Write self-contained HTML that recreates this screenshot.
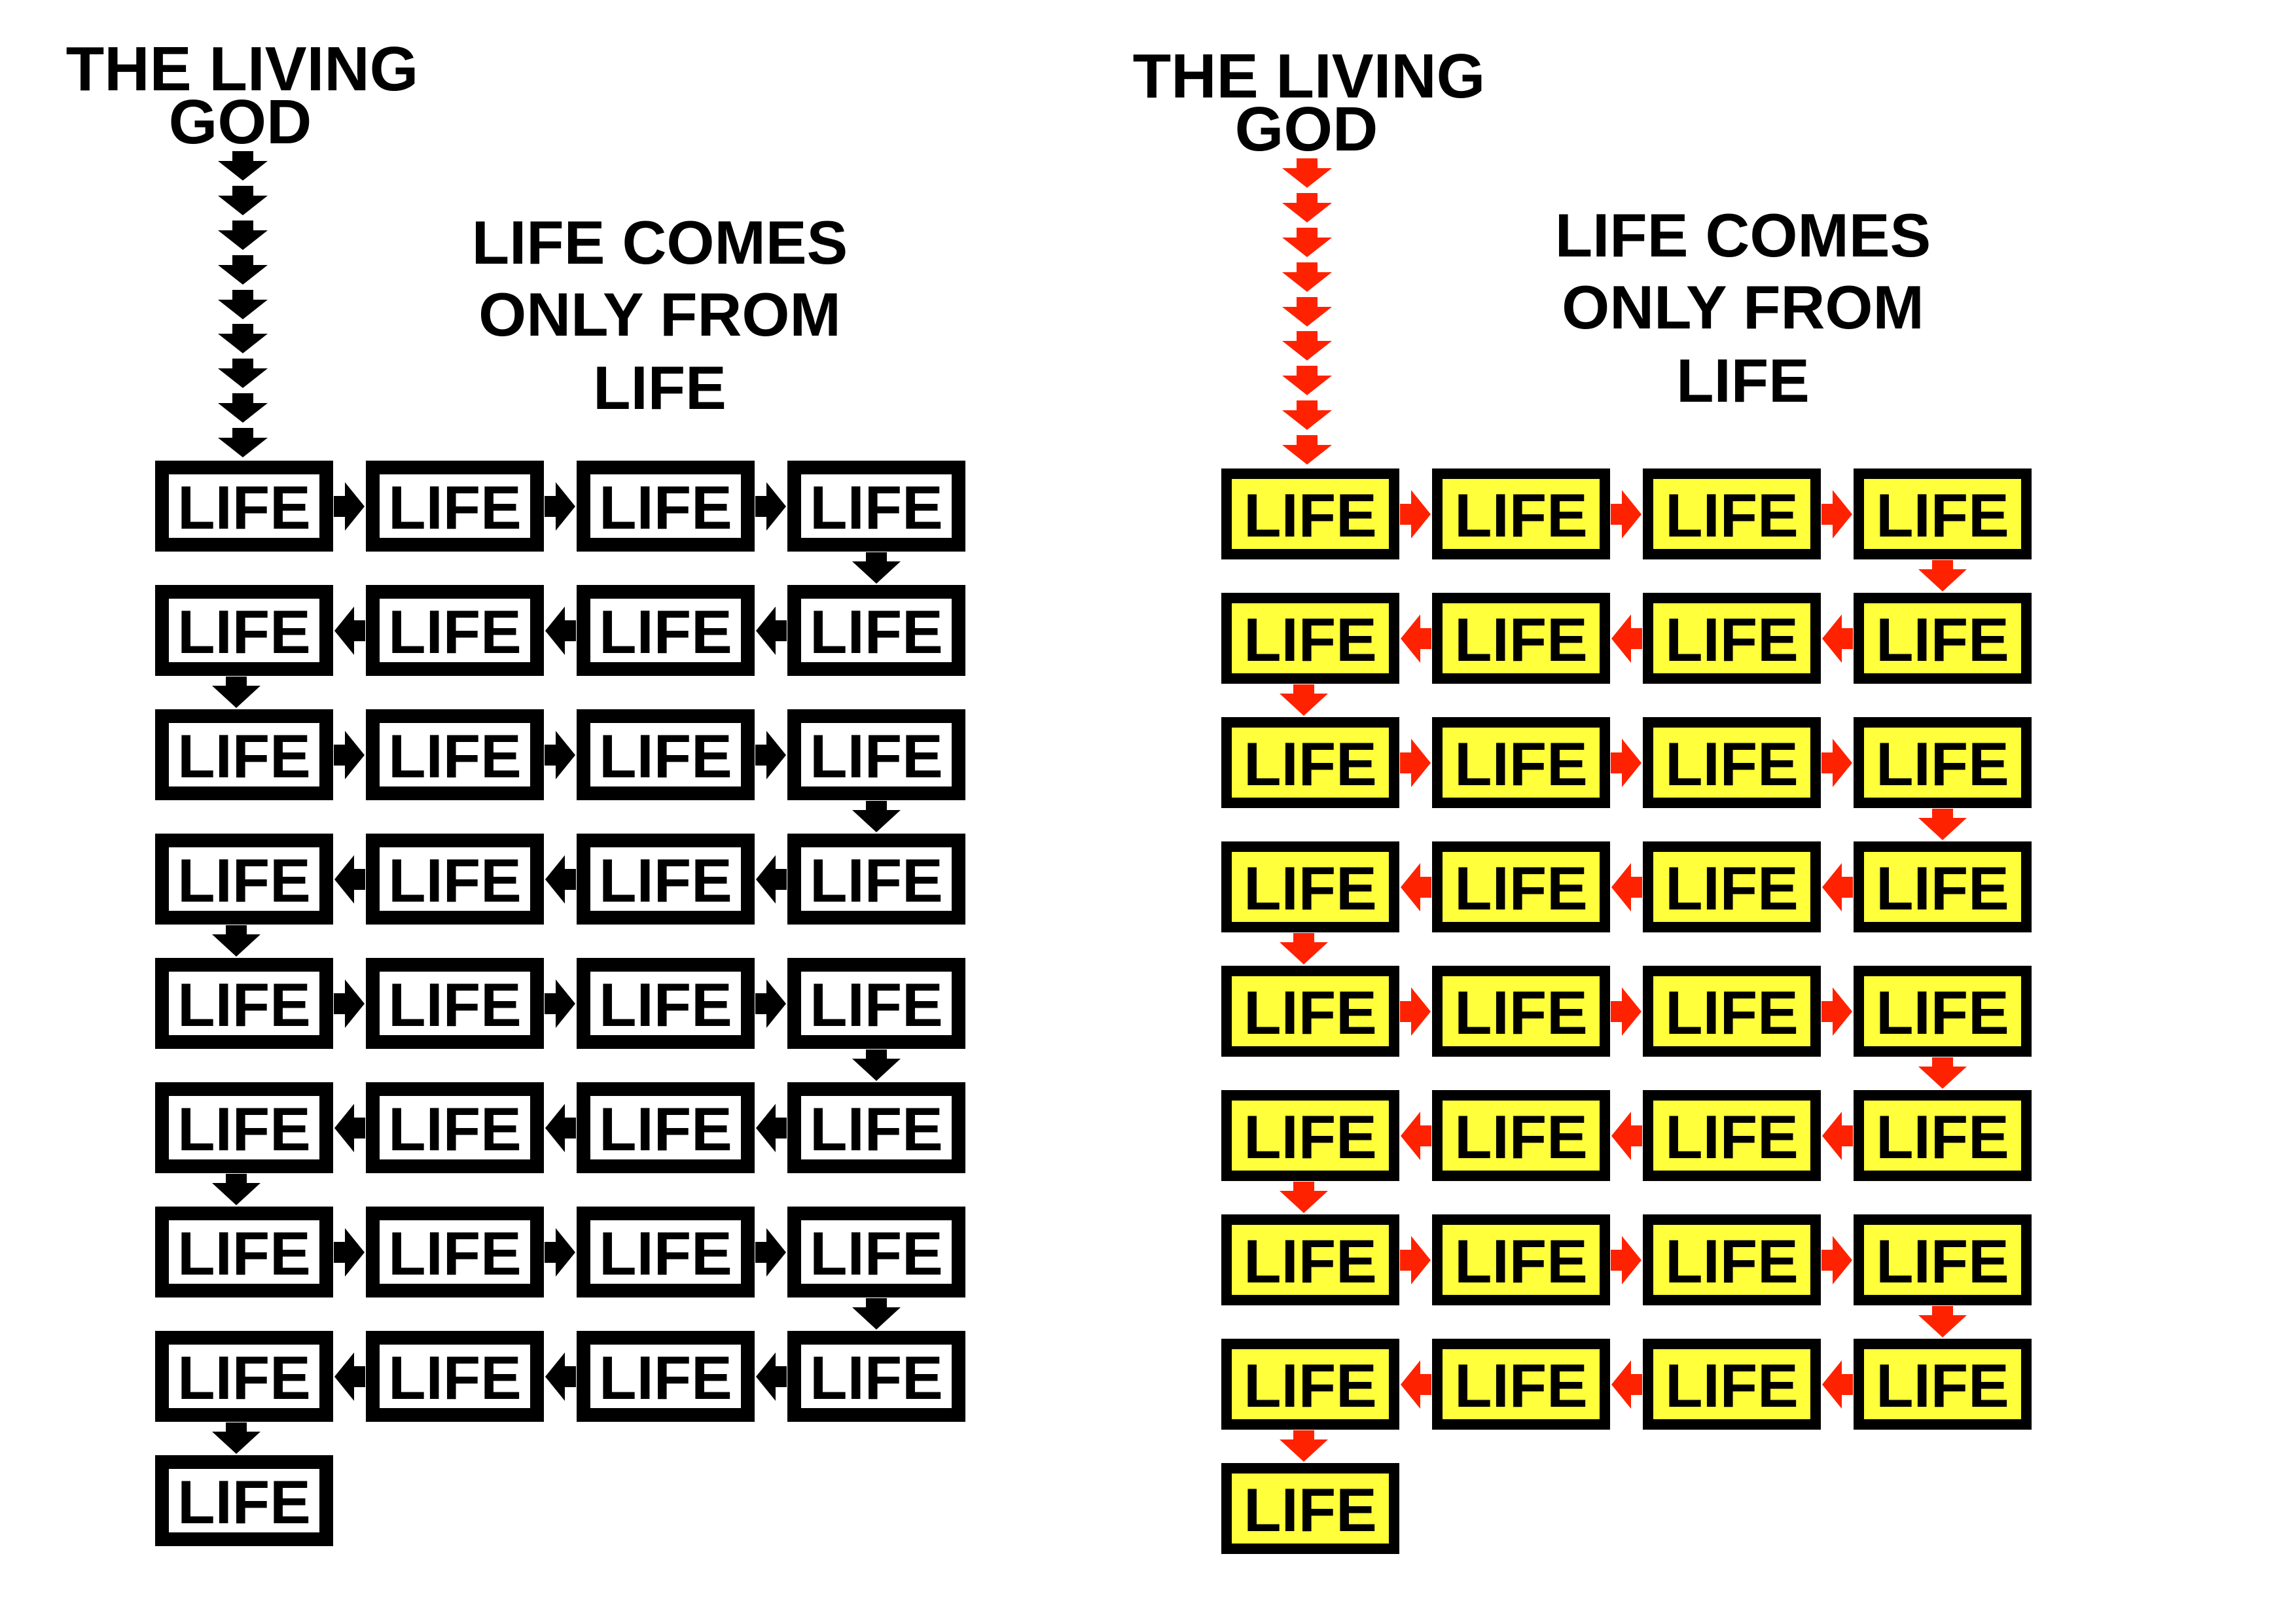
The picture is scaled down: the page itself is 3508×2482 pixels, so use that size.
<!DOCTYPE html>
<html><head><meta charset="utf-8"><style>
html,body{margin:0;padding:0;background:#fff;}
svg{display:block;}
text{font-family:"Liberation Sans",Arial,sans-serif;font-weight:bold;text-anchor:middle;}
.b{font-size:94px;}
.t{font-size:96px;}
.s{font-size:94px;}
</style></head><body>
<svg width="3508" height="2482" viewBox="0 0 3508 2482" xmlns="http://www.w3.org/2000/svg">
<defs>
<g id="bl"><rect width="272" height="139" fill="#000"/><rect x="21" y="21" width="230" height="97" fill="#fff"/></g>
<g id="by"><rect width="272" height="139" fill="#000"/><rect x="16" y="16" width="240" height="107" fill="#ffff3c"/></g>
<polygon id="ar" points="1,-16 18,-16 18,-37 48,0 18,37 18,16 1,16"/>
<polygon id="al" points="49,-16 32,-16 32,-37 2,0 32,37 32,16 49,16"/>
<polygon id="ad" points="-16,1 16,1 16,15 37,15 0,49 -37,15 -16,15"/>
<polygon id="ag" points="-16,0 16,0 16,15 38,15 0,45 -38,15 -16,15"/>
<g id="Le"><use href="#bl" x="237"/><use href="#bl" x="559"/><use href="#bl" x="881"/><use href="#bl" x="1203"/>
<use href="#ar" x="509" y="70"/><use href="#ar" x="831" y="70"/><use href="#ar" x="1153" y="70"/><use href="#ad" x="1339" y="139"/></g>
<g id="Lo"><use href="#bl" x="237"/><use href="#bl" x="559"/><use href="#bl" x="881"/><use href="#bl" x="1203"/>
<use href="#al" x="509" y="70"/><use href="#al" x="831" y="70"/><use href="#al" x="1153" y="70"/><use href="#ad" x="361" y="139"/></g>
<g id="Re" fill="#ff2200"><use href="#by" x="1866"/><use href="#by" x="2188"/><use href="#by" x="2510"/><use href="#by" x="2832"/>
<use href="#ar" x="2138" y="70"/><use href="#ar" x="2460" y="70"/><use href="#ar" x="2782" y="70"/><use href="#ad" x="2968" y="139"/></g>
<g id="Ro" fill="#ff2200"><use href="#by" x="1866"/><use href="#by" x="2188"/><use href="#by" x="2510"/><use href="#by" x="2832"/>
<use href="#al" x="2138" y="70"/><use href="#al" x="2460" y="70"/><use href="#al" x="2782" y="70"/><use href="#ad" x="1992" y="139"/></g>
</defs>

<!-- LEFT PANEL -->
<text class="t" x="370" y="138">THE LIVING</text>
<text class="t" x="367" y="219">GOD</text>
<text class="s" x="1008" y="403">LIFE COMES</text>
<text class="s" x="1008" y="513">ONLY FROM</text>
<text class="s" x="1008" y="625">LIFE</text>
<g fill="#000">
<use href="#ag" x="371" y="231"/><use href="#ag" x="371" y="284"/><use href="#ag" x="371" y="337"/><use href="#ag" x="371" y="390"/><use href="#ag" x="371" y="443"/><use href="#ag" x="371" y="495"/><use href="#ag" x="371" y="548"/><use href="#ag" x="371" y="601"/><use href="#ag" x="371" y="654"/>
<use href="#Le" y="704"/><use href="#Lo" y="894"/><use href="#Le" y="1084"/><use href="#Lo" y="1274"/>
<use href="#Le" y="1464"/><use href="#Lo" y="1654"/><use href="#Le" y="1844"/><use href="#Lo" y="2034"/>
<use href="#bl" x="237" y="2224"/>
</g>
<g>
<text class="b" x="373" y="808">LIFE</text><text class="b" x="695" y="808">LIFE</text><text class="b" x="1017" y="808">LIFE</text><text class="b" x="1339" y="808">LIFE</text>
<text class="b" x="373" y="998">LIFE</text><text class="b" x="695" y="998">LIFE</text><text class="b" x="1017" y="998">LIFE</text><text class="b" x="1339" y="998">LIFE</text>
<text class="b" x="373" y="1188">LIFE</text><text class="b" x="695" y="1188">LIFE</text><text class="b" x="1017" y="1188">LIFE</text><text class="b" x="1339" y="1188">LIFE</text>
<text class="b" x="373" y="1378">LIFE</text><text class="b" x="695" y="1378">LIFE</text><text class="b" x="1017" y="1378">LIFE</text><text class="b" x="1339" y="1378">LIFE</text>
<text class="b" x="373" y="1568">LIFE</text><text class="b" x="695" y="1568">LIFE</text><text class="b" x="1017" y="1568">LIFE</text><text class="b" x="1339" y="1568">LIFE</text>
<text class="b" x="373" y="1758">LIFE</text><text class="b" x="695" y="1758">LIFE</text><text class="b" x="1017" y="1758">LIFE</text><text class="b" x="1339" y="1758">LIFE</text>
<text class="b" x="373" y="1948">LIFE</text><text class="b" x="695" y="1948">LIFE</text><text class="b" x="1017" y="1948">LIFE</text><text class="b" x="1339" y="1948">LIFE</text>
<text class="b" x="373" y="2138">LIFE</text><text class="b" x="695" y="2138">LIFE</text><text class="b" x="1017" y="2138">LIFE</text><text class="b" x="1339" y="2138">LIFE</text>
<text class="b" x="373" y="2328">LIFE</text>
</g>

<!-- RIGHT PANEL -->
<text class="t" x="2000" y="149">THE LIVING</text>
<text class="t" x="1996" y="230">GOD</text>
<text class="s" x="2663" y="392">LIFE COMES</text>
<text class="s" x="2663" y="502">ONLY FROM</text>
<text class="s" x="2663" y="614">LIFE</text>
<g fill="#ff2200">
<use href="#ag" x="1997" y="242"/><use href="#ag" x="1997" y="295"/><use href="#ag" x="1997" y="348"/><use href="#ag" x="1997" y="401"/><use href="#ag" x="1997" y="454"/><use href="#ag" x="1997" y="506"/><use href="#ag" x="1997" y="559"/><use href="#ag" x="1997" y="612"/><use href="#ag" x="1997" y="665"/>
<use href="#Re" y="716"/><use href="#Ro" y="906"/><use href="#Re" y="1096"/><use href="#Ro" y="1286"/>
<use href="#Re" y="1476"/><use href="#Ro" y="1666"/><use href="#Re" y="1856"/><use href="#Ro" y="2046"/>
<use href="#by" x="1866" y="2236"/>
</g>
<g>
<text class="b" x="2002" y="820">LIFE</text><text class="b" x="2324" y="820">LIFE</text><text class="b" x="2646" y="820">LIFE</text><text class="b" x="2968" y="820">LIFE</text>
<text class="b" x="2002" y="1010">LIFE</text><text class="b" x="2324" y="1010">LIFE</text><text class="b" x="2646" y="1010">LIFE</text><text class="b" x="2968" y="1010">LIFE</text>
<text class="b" x="2002" y="1200">LIFE</text><text class="b" x="2324" y="1200">LIFE</text><text class="b" x="2646" y="1200">LIFE</text><text class="b" x="2968" y="1200">LIFE</text>
<text class="b" x="2002" y="1390">LIFE</text><text class="b" x="2324" y="1390">LIFE</text><text class="b" x="2646" y="1390">LIFE</text><text class="b" x="2968" y="1390">LIFE</text>
<text class="b" x="2002" y="1580">LIFE</text><text class="b" x="2324" y="1580">LIFE</text><text class="b" x="2646" y="1580">LIFE</text><text class="b" x="2968" y="1580">LIFE</text>
<text class="b" x="2002" y="1770">LIFE</text><text class="b" x="2324" y="1770">LIFE</text><text class="b" x="2646" y="1770">LIFE</text><text class="b" x="2968" y="1770">LIFE</text>
<text class="b" x="2002" y="1960">LIFE</text><text class="b" x="2324" y="1960">LIFE</text><text class="b" x="2646" y="1960">LIFE</text><text class="b" x="2968" y="1960">LIFE</text>
<text class="b" x="2002" y="2150">LIFE</text><text class="b" x="2324" y="2150">LIFE</text><text class="b" x="2646" y="2150">LIFE</text><text class="b" x="2968" y="2150">LIFE</text>
<text class="b" x="2002" y="2340">LIFE</text>
</g>
</svg>
</body></html>
